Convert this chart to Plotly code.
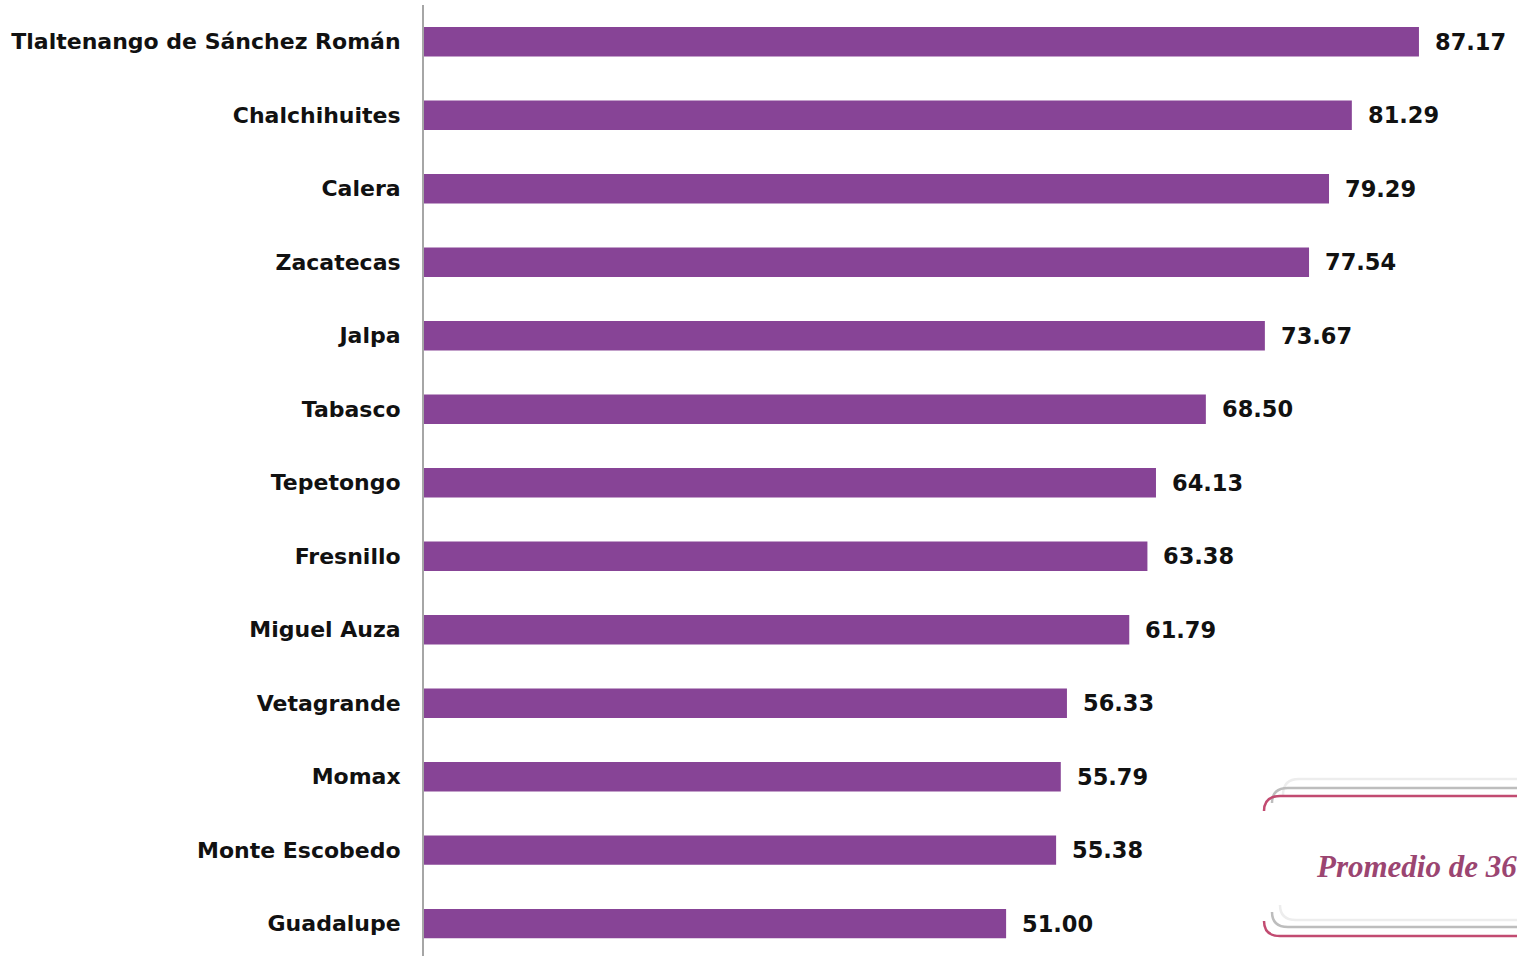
import plotly.graph_objects as go

municipios = ["Tlaltenango de Sánchez Román", "Chalchihuites", "Calera", "Zacatecas",
              "Jalpa", "Tabasco", "Tepetongo", "Fresnillo", "Miguel Auza", "Vetagrande",
              "Momax", "Monte Escobedo", "Guadalupe"]
valores = [87.17, 81.29, 79.29, 77.54, 73.67, 68.50, 64.13, 63.38, 61.79, 56.33,
           55.79, 55.38, 51.00]
etiquetas = [f"{v:.2f}" for v in valores]
nota = "Promedio de 36 municipios"

W, H = 1517, 956
L, T = 424, 5
PW, PH = W - L, 951

BAR = "#874496"
posiciones = list(range(len(municipios)))

fig = go.Figure(go.Bar(
    x=valores, y=posiciones, orientation="h",
    marker=dict(color=BAR, line=dict(width=0)),
    width=0.4, hoverinfo="skip",
))

for v, p, t in zip(valores, posiciones, etiquetas):
    fig.add_annotation(x=v, y=p, text=t, showarrow=False, xanchor="left",
                       yanchor="middle", xshift=14,
                       font=dict(family="DejaVu Sans", size=22.5, color="#111111",
                                 weight="bold"))


def px(xp):
    return (xp - L) / PW


def py(yp):
    return 1 - (yp - T) / PH


def path(points):
    s = ""
    for cmd, *pts in points:
        s += cmd + " " + " ".join(f"{px(a):.5f},{py(b):.5f}" for a, b in pts) + " "
    return s.strip()


# decorative rounded box (bottom right)
shapes = []
shapes.append(dict(type="path", xref="paper", yref="paper", line=dict(color="#EDEDED", width=2.5),
                   path=path([("M", (1283, 795)), ("Q", (1283, 779), (1299, 779)), ("L", (1530, 779))])))
shapes.append(dict(type="path", xref="paper", yref="paper", line=dict(color="#EDEDED", width=2.5),
                   path=path([("M", (1280, 905)), ("Q", (1280, 920), (1296, 920)), ("L", (1530, 920))])))
shapes.append(dict(type="path", xref="paper", yref="paper", line=dict(color="#BDBDBD", width=2.5),
                   path=path([("M", (1272, 803)), ("Q", (1272, 788), (1288, 788)), ("L", (1530, 788))])))
shapes.append(dict(type="path", xref="paper", yref="paper", line=dict(color="#BDBDBD", width=2.5),
                   path=path([("M", (1272, 912)), ("Q", (1272, 927), (1288, 927)), ("L", (1530, 927))])))
shapes.append(dict(type="path", xref="paper", yref="paper", line=dict(color="#C24B71", width=2.5),
                   path=path([("M", (1264, 811)), ("Q", (1264, 796), (1280, 796)), ("L", (1530, 796))])))
shapes.append(dict(type="path", xref="paper", yref="paper", line=dict(color="#C24B71", width=2.5),
                   path=path([("M", (1264, 921)), ("Q", (1264, 936), (1280, 936)), ("L", (1530, 936))])))

fig.add_annotation(xref="paper", yref="paper", x=px(1314), y=py(866), text=nota,
                   showarrow=False, xanchor="left", yanchor="middle",
                   font=dict(family="Liberation Serif", size=31, color="#9B4571",
                             style="italic", weight="bold"))

fig.update_layout(
    width=W, height=H,
    margin=dict(l=L, r=0, t=T, b=0),
    plot_bgcolor="white", paper_bgcolor="white",
    showlegend=False,
    shapes=shapes,
    xaxis=dict(range=[0, PW / 11.414], visible=False, fixedrange=True),
    yaxis=dict(range=[12.44, -0.5], tickmode="array", tickvals=posiciones,
               ticktext=municipios, showgrid=False, zeroline=False, fixedrange=True,
               showline=True, linecolor="#A6A6A6", linewidth=2, ticks="",
               ticklabelstandoff=17,
               tickfont=dict(family="DejaVu Sans", size=22, color="#111111", weight="bold")),
    font=dict(family="DejaVu Sans"),
)

fig.write_html("out.html", config={"displayModeBar": False},
               post_script="document.body.style.margin='0';document.body.style.overflow='hidden';")
